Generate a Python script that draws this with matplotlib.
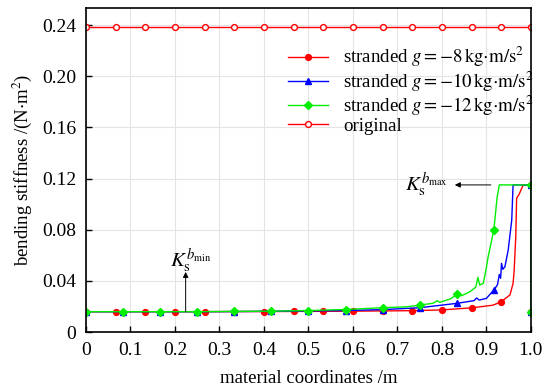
import numpy as np
import matplotlib
matplotlib.use("Agg")
import matplotlib.pyplot as plt

plt.rcParams['font.family'] = ['Liberation Serif', 'DejaVu Serif']
plt.rcParams['mathtext.fontset'] = 'stix'
plt.rcParams['font.size'] = 13

# material coordinate samples and bending stiffness for each case
x_orig = [i / 15 for i in range(16)]
k_orig = [0.2387] * 16

x_g8 = [0, 1/15, 2/15, 3/15, 4/15, 5/15, 6/15, 7/15, 8/15, 9/15, 10/15, 11/15, 12/15, 13/15,
        0.915, 14/15, 0.953, 0.960, 0.9625, 0.966, 0.968, 0.974, 0.979, 0.983, 1.0, 1.0]
k_g8 = [0.0159, 0.0159, 0.0159, 0.0159, 0.0159, 0.0160, 0.0160, 0.0161, 0.0162, 0.0163, 0.0165,
        0.0167, 0.0173, 0.0189, 0.0210, 0.0237, 0.0290, 0.0380, 0.0485, 0.0745, 0.1045, 0.1080,
        0.1120, 0.1150, 0.1150, 0.0159]
x_g10 = [0, 1/12, 2/12, 3/12, 4/12, 5/12, 6/12, 7/12, 8/12, 9/12, 10/12, 0.872, 0.878, 0.884,
         0.900, 11/12, 0.925, 0.929, 0.932, 0.934, 0.937, 0.9416, 0.949, 0.957, 0.960, 1.0, 1.0]
k_g10 = [0.0159, 0.0159, 0.0159, 0.0159, 0.0160, 0.0162, 0.0165, 0.0168, 0.0175, 0.0190, 0.0224,
         0.0245, 0.0266, 0.0250, 0.0263, 0.0328, 0.0370, 0.0450, 0.0420, 0.0537, 0.0490, 0.0510,
         0.0640, 0.0876, 0.1150, 0.1150, 0.0159]
x_g12 = [0, 1/12, 2/12, 3/12, 4/12, 5/12, 6/12, 7/12, 8/12, 0.72, 9/12, 0.78, 0.79, 0.795, 0.82,
         10/12, 0.845, 0.863, 0.876, 0.881, 0.885, 0.893, 0.899, 0.904, 0.912, 11/12, 0.924, 0.929,
         1.0, 1.0]
k_g12 = [0.0159, 0.0159, 0.0159, 0.0159, 0.0161, 0.0163, 0.0168, 0.0176, 0.0190, 0.0197, 0.0210,
         0.0225, 0.0245, 0.0232, 0.0260, 0.0295, 0.0285, 0.0315, 0.0350, 0.0427, 0.0367, 0.0380,
         0.0485, 0.0589, 0.0720, 0.0795, 0.1050, 0.1150, 0.1150, 0.0159]

k_min = 0.0159
k_max = 0.1150

x_ticks = [0, 0.1, 0.2, 0.3, 0.4, 0.5, 0.6, 0.7, 0.8, 0.9, 1.0]
x_ticklabels = ['0', '0.1', '0.2', '0.3', '0.4', '0.5', '0.6', '0.7', '0.8', '0.9', '1.0']
y_ticks = [0, 0.04, 0.08, 0.12, 0.16, 0.20, 0.24]
y_ticklabels = ['0', '0.04', '0.08', '0.12', '0.16', '0.20', '0.24']


def marks(xs, step):
    return [abs(v / step - round(v / step)) < 1e-6 for v in xs]


fig = plt.figure(figsize=(5.53, 3.92), dpi=100)
ax = fig.add_axes([0.1555, 0.153, 0.8045, 0.8266])

ax.plot(x_g8, k_g8, color='#ff0000', lw=1.0, marker='o', ms=4.2,
        markevery=marks(x_g8, 1/15), label=r'stranded $g=-8\,\mathrm{kg{\cdot}m/s^2}$')
ax.plot(x_g10, k_g10, color='#0000ff', lw=1.0, marker='^', ms=4.5,
        markevery=marks(x_g10, 1/12), label=r'stranded $g=-10\,\mathrm{kg{\cdot}m/s^2}$')
ax.plot(x_g12, k_g12, color='#00ee00', lw=1.0, marker='D', ms=4.0,
        markevery=marks(x_g12, 1/12), label=r'stranded $g=-12\,\mathrm{kg{\cdot}m/s^2}$')
ax.plot(x_orig, k_orig, color='#ff0000', lw=1.0, marker='o', ms=4.2, mfc='white',
        mew=1.0, label='original')

ax.set_xlim(0, 1.0)
ax.set_ylim(0, 0.2533)
ax.set_xticks(x_ticks)
ax.set_xticklabels(x_ticklabels)
ax.set_yticks(y_ticks)
ax.set_yticklabels(y_ticklabels)
ax.tick_params(direction='in', length=4, width=1, top=False, right=False, labelsize=14, pad=7)
ax.grid(True, color='#e4e4e4', lw=0.8)
ax.set_axisbelow(True)
for s in ax.spines.values():
    s.set_linewidth(1.2)

ax.set_xlabel('material coordinates /m', fontsize=13.5, labelpad=8)
ax.set_ylabel(r'bending stiffness /(N$\cdot$m$^2$)', fontsize=13.5, labelpad=6)

# limit annotations
ax.annotate('', xy=(0.224, 0.047), xytext=(0.224, k_min),
            arrowprops=dict(arrowstyle='-|>', color='black', lw=0.7, mutation_scale=8,
                            shrinkA=0, shrinkB=0))
ax.text(0.236, 0.0555, r'$K_\mathrm{s}^{b_\mathrm{min}}$', fontsize=15, ha='center', va='center')
ax.annotate('', xy=(0.829, k_max), xytext=(0.91, k_max),
            arrowprops=dict(arrowstyle='-|>', color='black', lw=0.7, mutation_scale=8,
                            shrinkA=0, shrinkB=0))
ax.text(0.765, k_max, r'$K_\mathrm{s}^{b_\mathrm{max}}$', fontsize=15, ha='center', va='center')

ax.legend(loc='upper left', bbox_to_anchor=(0.455, 0.886), frameon=False, borderpad=0,
          borderaxespad=0, handlelength=2.1, handletextpad=0.8, labelspacing=0.0,
          fontsize=13.6)

fig.savefig('out.png', dpi=100)
